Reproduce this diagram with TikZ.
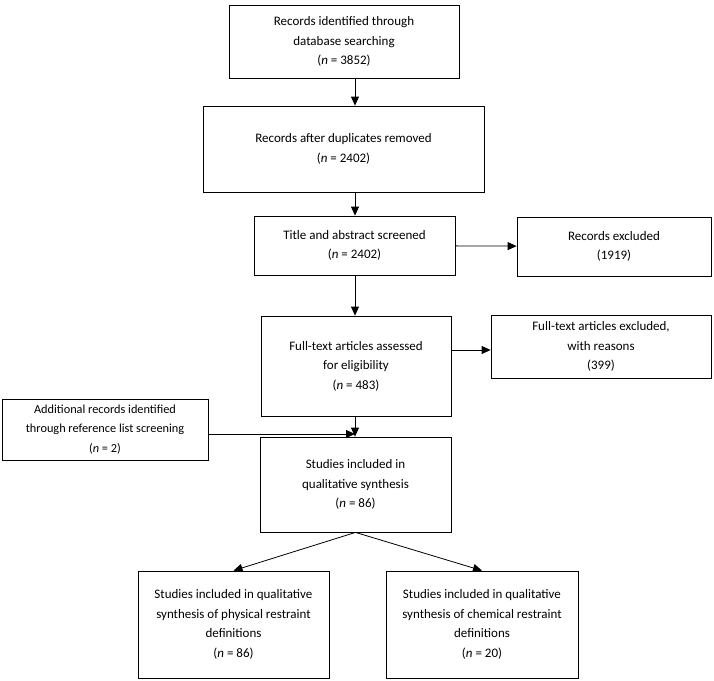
\documentclass[tikz,border=0pt]{standalone}
\usepackage{fontspec}
\setmainfont{Carlito}
\usetikzlibrary{positioning,arrows.meta}

\begin{document}
\begin{tikzpicture}[x=1pt,y=-1pt,
    box/.style={draw, thick, align=center, font=\fontsize{13}{19.5}\selectfont, inner sep=0pt},
    arr/.style={-{Triangle[length=9pt,width=8pt]}, thick}]
    % Frame
    \useasboundingbox (0,0) rectangle (714,680);

    % Boxes
    \node[box, minimum width=230, minimum height=73] (ident) at (344,41.5) {Records identified through\\database searching\\(\textit{n} = 3852)};
    \node[box, minimum width=281, minimum height=86] (dup) at (343.5,149) {Records after duplicates removed\\(\textit{n} = 2402)};
    \node[box, minimum width=201, minimum height=59] (screen) at (354.5,245.5) {Title and abstract screened\\(\textit{n} = 2402)};
    \node[box, minimum width=194, minimum height=59] (excl) at (614,246.5) {Records excluded\\(1919)};
    \node[box, minimum width=190, minimum height=100] (full) at (356,366) {Full-text articles assessed\\for eligibility\\(\textit{n} = 483)};
    \node[box, minimum width=220, minimum height=63] (fullexcl) at (601,346.5) {Full-text articles excluded,\\with reasons\\(399)};
    \node[box, minimum width=206, minimum height=61, font=\fontsize{12.3}{19.5}\selectfont] (add) at (105,429.5) {Additional records identified\\through reference list screening\\(\textit{n} = 2)};
    \node[box, minimum width=191, minimum height=95] (incl) at (355.5,484.5) {Studies included in\\qualitative synthesis\\(\textit{n} = 86)};
    \node[box, minimum width=191, minimum height=107] (phys) at (233.5,624.5) {Studies included in qualitative\\synthesis of physical restraint\\definitions\\(\textit{n} = 86)};
    \node[box, minimum width=192, minimum height=107] (chem) at (482,624.5) {Studies included in qualitative\\synthesis of chemical restraint\\definitions\\(\textit{n} = 20)};

    % Arrows
    \draw[arr] (ident.south -| 355,0) -- (dup.north -| 355,0);
    \draw[arr] (dup.south -| 355,0) -- (screen.north -| 355,0);
    \draw[arr] (screen) -- (excl);
    \draw[arr] (screen.south -| 355,0) -- (full.north -| 355,0);
    \draw[arr] (full.east |- 0,350) -- (fullexcl.west |- 0,350);
    \draw[arr] (full.south -| 355,0) -- (incl.north -| 355,0);
    \coordinate (join) at (355,434);
    \draw[arr] (add.east |- join) -- (join);
    \draw[arr] (incl.south) -- (phys.north);
    \draw[arr] (incl.south) -- (chem.north);
\end{tikzpicture}
\end{document}
